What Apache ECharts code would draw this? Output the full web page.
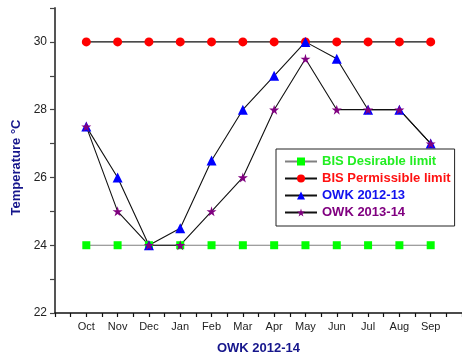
<!DOCTYPE html>
<html>
<head>
<meta charset="utf-8">
<script src="https://cdn.jsdelivr.net/npm/echarts@6/dist/echarts.min.js"></script>
<style>
  html, body { margin: 0; padding: 0; background: #fff; }
  #chart { width: 462px; height: 358px; }
</style>
</head>
<body>
<div id="chart"></div>
<script>
// Months of the OWK monitoring period
const months = ['Oct', 'Nov', 'Dec', 'Jan', 'Feb', 'Mar', 'Apr', 'May', 'Jun', 'Jul', 'Aug', 'Sep'];

// Temperature (°C) per month
const bisDesirable   = [24, 24, 24, 24, 24, 24, 24, 24, 24, 24, 24, 24];
const bisPermissible = [30, 30, 30, 30, 30, 30, 30, 30, 30, 30, 30, 30];
const owk2012_13     = [27.5, 26, 24, 24.5, 26.5, 28, 29, 30, 29.5, 28, 28, 27];
const owk2013_14     = [27.5, 25, 24, 24, 25, 26, 28, 29.5, 28, 28, 28, 27];

// Y tick labels shown (even degrees)
const yTickLabels = [22, 24, 26, 28, 30];

const pairs = vals => vals.map((v, i) => [i, v]);

const chart = echarts.init(document.getElementById('chart'), null, { renderer: 'canvas' });

const font = 'Arial, "Liberation Sans", sans-serif';

function lineSeries(name, vals, symbol, size, color, lineColor) {
  return {
    name: name,
    type: 'line',
    data: pairs(vals),
    symbol: symbol,
    symbolSize: size,
    showAllSymbol: true,
    itemStyle: { color: color },
    lineStyle: { color: lineColor, width: 1.1 },
    animation: false
  };
}

chart.setOption({
  backgroundColor: '#fff',
  animation: false,
  grid: { left: 55, top: 8, right: 0, bottom: 45, containLabel: false, outerBoundsMode: 'none' },
  xAxis: {
    type: 'value',
    min: -1,
    max: 12,
    interval: 0.5,
    name: 'OWK 2012-14',
    nameLocation: 'middle',
    nameGap: 29,
    nameTextStyle: { color: '#16168c', fontWeight: 'bold', fontSize: 13, fontFamily: font },
    axisLine: { show: true, onZero: false, lineStyle: { color: '#111', width: 1.5 } },
    axisTick: { show: true, length: 4, inside: false, lineStyle: { color: '#111', width: 1.2 } },
    axisLabel: {
      color: '#222', fontSize: 11, fontFamily: font, margin: 8,
      formatter: v => (Number.isInteger(v) && v >= 0 && v < months.length) ? months[v] : ''
    },
    splitLine: { show: false }
  },
  yAxis: {
    type: 'value',
    min: 22,
    max: 31,
    interval: 1,
    name: 'Temperature °C',
    nameLocation: 'middle',
    nameGap: 27,
    nameRotate: 90,
    nameTextStyle: {
      color: '#16168c', fontWeight: 'bold', fontSize: 13, fontFamily: font,
      padding: [0, 14, 0, 0]
    },
    axisLine: { show: true, onZero: false, lineStyle: { color: '#555', width: 2 } },
    axisTick: { show: true, length: 5, inside: false, lineStyle: { color: '#444', width: 1.2 } },
    axisLabel: {
      color: '#222', fontSize: 12, fontFamily: font, margin: 8,
      formatter: v => yTickLabels.includes(v) ? String(v) : ''
    },
    splitLine: { show: false }
  },
  legend: {
    left: 276,
    top: 149,
    orient: 'vertical',
    itemWidth: 32,
    itemHeight: 10,
    itemGap: 4,
    padding: [6, 4, 7, 8],
    borderColor: '#222',
    borderWidth: 1,
    backgroundColor: '#fff',
    textStyle: { fontWeight: 'bold', fontSize: 13, fontFamily: font },
    data: [
      { name: 'BIS Desirable limit', textStyle: { color: '#22ee22' } },
      { name: 'BIS Permissible limit', textStyle: { color: '#ff1111' } },
      { name: 'OWK 2012-13', textStyle: { color: '#1111ee' } },
      { name: 'OWK 2013-14', textStyle: { color: '#800080' } }
    ]
  },
  series: [
    lineSeries('BIS Desirable limit', bisDesirable, 'rect', 8, '#00ff00', '#808080'),
    lineSeries('BIS Permissible limit', bisPermissible, 'circle', 9, '#ff0000', '#111'),
    lineSeries('OWK 2012-13', owk2012_13, 'triangle', 10, '#0000ff', '#111'),
    lineSeries('OWK 2013-14', owk2013_14, 'path://M50,0 L61,35 L98,35 L68,57 L79,91 L50,70 L21,91 L32,57 L2,35 L39,35 Z', 10, '#800080', '#111')
  ]
});
</script>
</body>
</html>
